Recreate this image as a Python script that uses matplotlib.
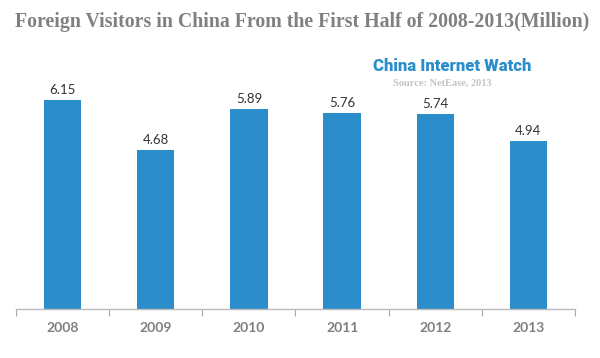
import matplotlib.pyplot as plt
import numpy as np

years = ["2008", "2009", "2010", "2011", "2012", "2013"]
visitors = [6.15, 4.68, 5.89, 5.76, 5.74, 4.94]

BAR_BLUE = "#2B8DC9"
TITLE_GREY = "#808080"
TICK_GREY = "#7F7F7F"

fig = plt.figure(figsize=(6, 3.58), dpi=100)
ax = fig.add_axes([16 / 600, 1 - 309 / 358, (575 - 16) / 600, (309 - 71) / 358])

x = np.arange(len(years))
bars = ax.bar(x, visitors, width=0.4, color=BAR_BLUE)

for xi, v in zip(x, visitors):
    ax.text(xi, v + 0.12, f"{v:.2f}", ha="center", va="bottom",
            fontsize=9.5, color="#333333", family="Lato")

ax.set_xlim(-0.5, len(years) - 0.5)
ax.set_ylim(0, 7)

# category labels without tick marks, boundary ticks pointing down
ax.set_xticks(x)
ax.set_xticklabels(years, fontsize=10, fontweight="bold", color=TICK_GREY,
                   family="Lato")
ax.tick_params(axis="x", which="major", length=0, pad=9)
ax.set_xticks(np.arange(-0.5, len(years), 1.0), minor=True)
ax.tick_params(axis="x", which="minor", length=5, color="#AAAAAA", width=0.8)

ax.set_yticks([])
for side in ["left", "right", "top"]:
    ax.spines[side].set_visible(False)
ax.spines["bottom"].set_color("#BBBBBB")
ax.spines["bottom"].set_linewidth(1.0)

fig.text(302 / 600, 1 - 22 / 358, "Foreign Visitors in China From the First Half of 2008-2013(Million)",
         ha="center", va="center", fontsize=14.3, fontweight="bold",
         color=TITLE_GREY, family="Liberation Serif")

fig.text(452 / 600, 1 - 66 / 358, "China Internet Watch", ha="center", va="center",
         fontsize=12, fontweight=900, color="#2B8DC9", family="Roboto")
fig.text(442 / 600, 1 - 83 / 358, "Source: NetEase, 2013", ha="center", va="center",
         fontsize=7.5, fontweight="bold", color="#C4C4C4", family="Liberation Serif")

fig.savefig("out.png", dpi=100)
